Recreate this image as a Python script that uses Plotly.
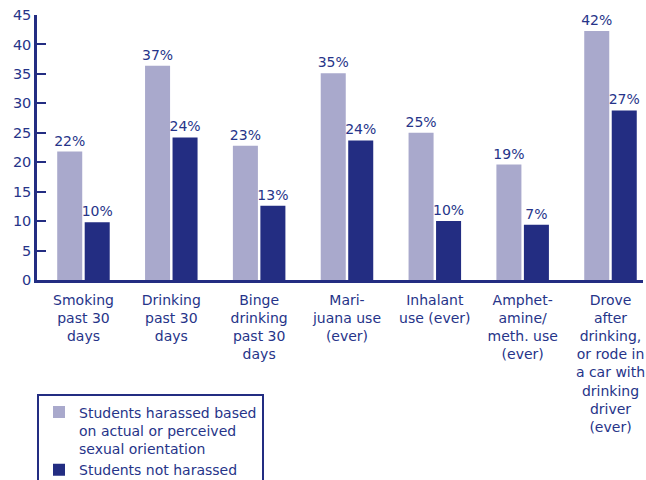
import plotly.graph_objects as go

categories = [
    "Smoking<br>past 30<br>days",
    "Drinking<br>past 30<br>days",
    "Binge<br>drinking<br>past 30<br>days",
    "Mari-<br>juana use<br>(ever)",
    "Inhalant<br>use (ever)",
    "Amphet-<br>amine/<br>meth. use<br>(ever)",
    "Drove<br>after<br>drinking,<br>or rode in<br>a car with<br>drinking<br>driver<br>(ever)",
]
harassed = [21.8, 36.4, 22.8, 35.1, 25.0, 19.6, 42.3]
harassed_labels = ["22%", "37%", "23%", "35%", "25%", "19%", "42%"]
not_harassed = [9.8, 24.2, 12.6, 23.7, 10.0, 9.4, 28.8]
not_harassed_labels = ["10%", "24%", "13%", "24%", "10%", "7%", "27%"]
y_ticks = [0, 5, 10, 15, 20, 25, 30, 35, 40, 45]

navy = "#232d82"
light = "#a9a9cc"
txt = "#263489"
font = "DejaVu Sans"

fig = go.Figure()
fig.add_trace(go.Bar(
    x=list(range(len(categories))), y=harassed, text=harassed_labels,
    name="Students harassed based<br>on actual or perceived<br>sexual orientation",
    marker=dict(color=light, line=dict(width=0)),
    textposition="outside", constraintext="none",
    textfont=dict(color=txt, size=14, family=font),
    cliponaxis=False,
))
fig.add_trace(go.Bar(
    x=list(range(len(categories))), y=not_harassed, text=not_harassed_labels,
    name="Students not harassed",
    marker=dict(color=navy, line=dict(width=0)),
    textposition="outside", constraintext="none",
    textfont=dict(color=txt, size=14, family=font),
    cliponaxis=False,
))

fig.update_layout(
    template="none",
    width=646, height=480,
    margin=dict(l=37, r=3, t=15, b=200, autoexpand=False),
    paper_bgcolor="white", plot_bgcolor="white",
    barmode="group", bargap=0.374, bargroupgap=0.09,
    font=dict(family=font, size=14, color=txt),
    showlegend=True,
    legend=dict(
        x=0.0, y=-0.432, xanchor="left", yanchor="top",
        bordercolor=navy, borderwidth=2, bgcolor="white",
        font=dict(size=14, color=txt, family=font),
        tracegroupgap=0, itemwidth=30, valign="top",
    ),
)
fig.update_xaxes(
    automargin=False,
    range=[-0.529, 6.37], tickmode="array",
    tickvals=list(range(len(categories))), ticktext=categories,
    showline=True, linecolor=navy, linewidth=2.5, ticks="",
    showgrid=False, zeroline=False, ticklabelstandoff=5,
    tickfont=dict(size=14, color=txt, family=font),
)
fig.update_yaxes(
    automargin=False,
    range=[0, 45], tickmode="array", tickvals=y_ticks,
    showline=True, linecolor=navy, linewidth=2.5,
    ticks="inside", ticklen=9, tickwidth=2, tickcolor=navy,
    showgrid=False, zeroline=False,
    tickfont=dict(size=14.5, color=txt, family=font),
)

fig.write_html(
    "out.html",
    config={"displayModeBar": False},
    post_script="document.body.style.margin='0';document.body.style.overflow='hidden';",
)
